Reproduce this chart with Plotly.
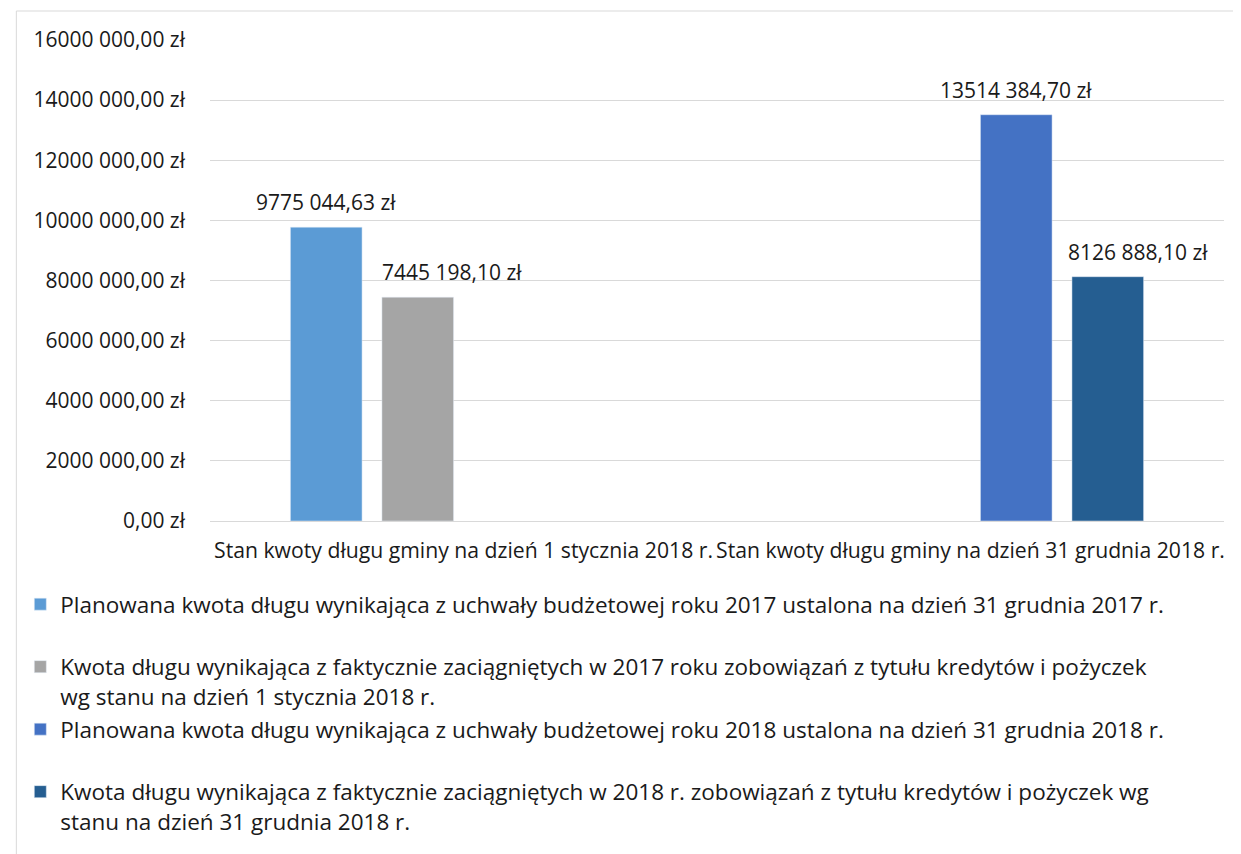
import plotly.graph_objects as go

categories = ["Stan kwoty długu gminy na dzień 1 stycznia 2018 r.",
              "Stan kwoty długu gminy na dzień 31 grudnia 2018 r."]
series_names = [
    "Planowana kwota długu wynikająca z uchwały budżetowej roku 2017 ustalona na dzień 31 grudnia 2017 r.<br> ",
    "Kwota długu wynikająca z faktycznie zaciągniętych w 2017 roku zobowiązań z tytułu kredytów i pożyczek<br>wg stanu na dzień 1 stycznia 2018 r.",
    "Planowana kwota długu wynikająca z uchwały budżetowej roku 2018 ustalona na dzień 31 grudnia 2018 r.<br> ",
    "Kwota długu wynikająca z faktycznie zaciągniętych w 2018 r. zobowiązań z tytułu kredytów i pożyczek wg<br>stanu na dzień 31 grudnia 2018 r.",
]
plan_2017 = [9775044.63, None]
actual_2017 = [7445198.10, None]
plan_2018 = [None, 13514384.70]
actual_2018 = [None, 8126888.10]
tick_values = [0, 2e6, 4e6, 6e6, 8e6, 10e6, 12e6, 14e6, 16e6]

colors = ["#5B9BD5", "#A5A5A5", "#4472C4", "#255E91"]
FONT = "Open Sans"
TXT = "#1a1a1a"

# plot area in figure coordinates (page is offset by 8px body margin)
L, R, T, B = 195, 1216, 32, 513
PW, PH = R - L, B - T


def pl_money(v):
    s = f"{v:.2f}"
    ip, dp = s.split(".")
    if len(ip) > 3:
        ip = ip[:-3] + " " + ip[-3:]
    return f"{ip},{dp} zł"


series = [plan_2017, actual_2017, plan_2018, actual_2018]
fig = go.Figure()
for i, (name, vals) in enumerate(zip(series_names, series)):
    fig.add_trace(go.Bar(x=categories, y=vals, name=name, marker_color=colors[i],
                         legendgroup=f"g{i}", hoverinfo="skip"))

# data labels (slot offsets in category units; group of 4 slots)
bargap = 0.278
slot = (1 - bargap) / 4
label_shift = [0, 34, 0, 30]
for i, vals in enumerate(series):
    for ci, v in enumerate(vals):
        if v is None:
            continue
        xpos = ci + (i - 1.5) * slot
        fig.add_annotation(x=xpos, y=v, xref="x", yref="y", text=pl_money(v),
                           showarrow=False, yanchor="middle", yshift=25,
                           xshift=label_shift[i],
                           font=dict(family=FONT, size=21, color=TXT))

# outer chart border (left and top)
bx = (0 - L) / PW
by = (B - 3) / PH
fig.add_shape(type="line", xref="paper", yref="paper",
              x0=bx, x1=1.2, y0=by, y1=by, line=dict(color="#d9d9d9", width=1))
fig.add_shape(type="line", xref="paper", yref="paper",
              x0=bx, x1=bx, y0=by, y1=-1, line=dict(color="#d9d9d9", width=1))

fig.update_layout(
    width=1241, height=854,
    margin=dict(l=L, r=1241 - R, t=T, b=854 - B),
    paper_bgcolor="white", plot_bgcolor="white",
    barmode="group", bargap=bargap, bargroupgap=0.217,
    font=dict(family=FONT, size=20, color=TXT),
    showlegend=True,
    legend=dict(x=(4 - L) / PW, y=(B - 575) / PH, xanchor="left", yanchor="top",
                orientation="v", tracegroupgap=1, valign="top",
                font=dict(family=FONT, size=22.5, color=TXT),
                bgcolor="rgba(0,0,0,0)"),
    xaxis=dict(showgrid=False, showline=False, zeroline=False, ticks="",
               ticklabelstandoff=15, tickfont=dict(family=FONT, size=21.2, color=TXT)),
    yaxis=dict(range=[0, 16e6], tickvals=tick_values,
               ticktext=[pl_money(v) for v in tick_values],
               showgrid=True, gridcolor="#d9d9d9", gridwidth=1,
               zeroline=True, zerolinecolor="#d9d9d9", zerolinewidth=1,
               showline=False, ticks="", ticklabelstandoff=24,
               tickfont=dict(family=FONT, size=21, color=TXT)),
)

fig.write_html("out.html")
